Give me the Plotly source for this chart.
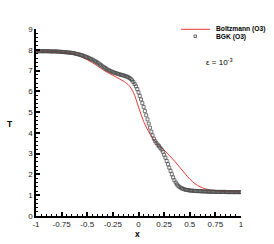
import plotly.graph_objects as go

# BGK (O3) samples, x step 0.0125
bgk_x = [round(-1 + 0.0125 * i, 4) for i in range(161)]
bgk_T = [7.93, 7.93, 7.93, 7.93, 7.93, 7.93, 7.93, 7.93, 7.93, 7.93,
         7.93, 7.92, 7.92, 7.92, 7.92, 7.92, 7.92,
         7.91, 7.91, 7.90, 7.90, 7.89, 7.89, 7.88, 7.88,
         7.87, 7.86, 7.86, 7.85, 7.84, 7.83, 7.81, 7.80,
         7.78, 7.77, 7.75, 7.73, 7.71, 7.69, 7.66, 7.64,
         7.61, 7.58, 7.55, 7.52, 7.49, 7.45, 7.42, 7.38,
         7.34, 7.29, 7.25, 7.20, 7.16, 7.12, 7.08, 7.04,
         7.01, 6.98, 6.95, 6.92, 6.90, 6.88, 6.86, 6.84,
         6.82, 6.80, 6.79, 6.77, 6.75, 6.73, 6.71, 6.68,
         6.64, 6.59, 6.53, 6.45, 6.35, 6.24, 6.11, 5.95,
         5.78, 5.61, 5.43, 5.25, 5.05, 4.85, 4.65, 4.45,
         4.25, 4.06, 3.88, 3.72, 3.60, 3.51, 3.43, 3.36,
         3.28, 3.20, 3.09, 2.95, 2.81, 2.65, 2.49, 2.33,
         2.17, 2.01, 1.86, 1.72, 1.61, 1.52, 1.45, 1.40,
         1.36, 1.33, 1.30, 1.28, 1.26, 1.25, 1.24, 1.23,
         1.22, 1.22, 1.21, 1.21, 1.20, 1.20, 1.20, 1.19,
         1.19, 1.19, 1.18, 1.18, 1.18, 1.18, 1.17, 1.17,
         1.17, 1.17, 1.17, 1.16, 1.16, 1.16, 1.16, 1.16,
         1.16, 1.16, 1.16, 1.16, 1.15, 1.15, 1.15, 1.15,
         1.15, 1.15, 1.15, 1.15, 1.15, 1.15, 1.15, 1.15]

# Boltzmann (O3), x step 0.05
boltz_x = [round(-1 + 0.05 * i, 3) for i in range(41)]
boltz_T = [7.93, 7.93, 7.92, 7.92, 7.91, 7.88, 7.86, 7.82, 7.74, 7.64,
           7.52, 7.38, 7.22, 7.05, 6.90, 6.77, 6.64, 6.50, 6.32, 5.95,
           5.25, 4.55, 4.05, 3.66, 3.40, 3.17, 2.92, 2.65, 2.36, 2.06,
           1.78, 1.56, 1.41, 1.31, 1.25, 1.21, 1.19, 1.17, 1.17, 1.16, 1.16]

x_ticks = [-1, -0.75, -0.5, -0.25, 0, 0.25, 0.5, 0.75, 1]
x_tick_labels = ["-1", "-0.75", "-0.5", "-0.25", "0", "0.25", "0.5", "0.75", "1"]
y_ticks = [0, 1, 2, 3, 4, 5, 6, 7, 8, 9]
y_tick_labels = [str(v) for v in y_ticks]

RED = "#e83a32"
BLK = "#484848"
FONT = "Liberation Sans, Arial, sans-serif"

fig = go.Figure()
fig.add_trace(go.Scatter(x=boltz_x, y=boltz_T, mode="lines",
                         line=dict(color=RED, width=1, shape="spline"),
                         name="Boltzmann (O3)", showlegend=False))
fig.add_trace(go.Scatter(x=bgk_x, y=bgk_T, mode="markers",
                         marker=dict(symbol="square-open", size=3,
                                     color=BLK, line=dict(width=0.75, color=BLK)),
                         name="BGK (O3)", showlegend=False))

axis_common = dict(showline=True, linecolor="black", linewidth=1.5,
                   ticks="inside", ticklen=4, tickwidth=1.5, tickcolor="black",
                   showgrid=False, zeroline=False, mirror=False, automargin=False,
                   tickfont=dict(family=FONT, size=8, color="#222"))

fig.update_xaxes(range=[-1, 1], tickvals=x_ticks, ticktext=x_tick_labels,
                 minor=dict(ticks="inside", dtick=0.05, ticklen=2, tickwidth=1,
                            tickcolor="black", showgrid=False),
                 **axis_common)
fig.update_yaxes(range=[0, 9], tickvals=y_ticks, ticktext=y_tick_labels,
                 minor=dict(ticks="inside", dtick=0.2, ticklen=2, tickwidth=1,
                            tickcolor="black", showgrid=False),
                 **axis_common)

def px_x(p):
    return (p - 36) / 205.0

def px_y(p):
    return (216 - p) / 187.0

def ann(text, px, py, size, anchor="center"):
    return dict(text=text, x=px_x(px), y=px_y(py), xref="paper", yref="paper",
                xanchor=anchor, yanchor="middle", showarrow=False, borderpad=0,
                font=dict(family=FONT, size=size, color="black"))

annotations = [
    ann("<b>T</b>", 10, 124, 8.5),
    ann("<b>x</b>", 137, 233.5, 8.5),
    ann("<b>Boltzmann (O3)</b>", 215, 29.3, 6.7, "left"),
    ann("<b>BGK (O3)</b>", 215, 36.8, 6.7, "left"),
    ann("ε = 10<sup>-3</sup>", 205, 62, 8, "left"),
]

shapes = [
    dict(type="line", xref="paper", yref="paper", x0=px_x(181), x1=px_x(210),
         y0=px_y(29.3), y1=px_y(29.3), line=dict(color=RED, width=1)),
    dict(type="rect", xref="paper", yref="paper", x0=px_x(194), x1=px_x(196.5),
         y0=px_y(35), y1=px_y(37.5), line=dict(color=BLK, width=0.8)),
]

fig.update_layout(width=274, height=244,
                  margin=dict(l=36, r=33, t=29, b=28, autoexpand=False),
                  paper_bgcolor="white", plot_bgcolor="white",
                  showlegend=False, annotations=annotations, shapes=shapes)

fig.write_html("out.html", config={"displayModeBar": False},
               post_script="document.body.style.margin='0';document.body.style.padding='0';")
